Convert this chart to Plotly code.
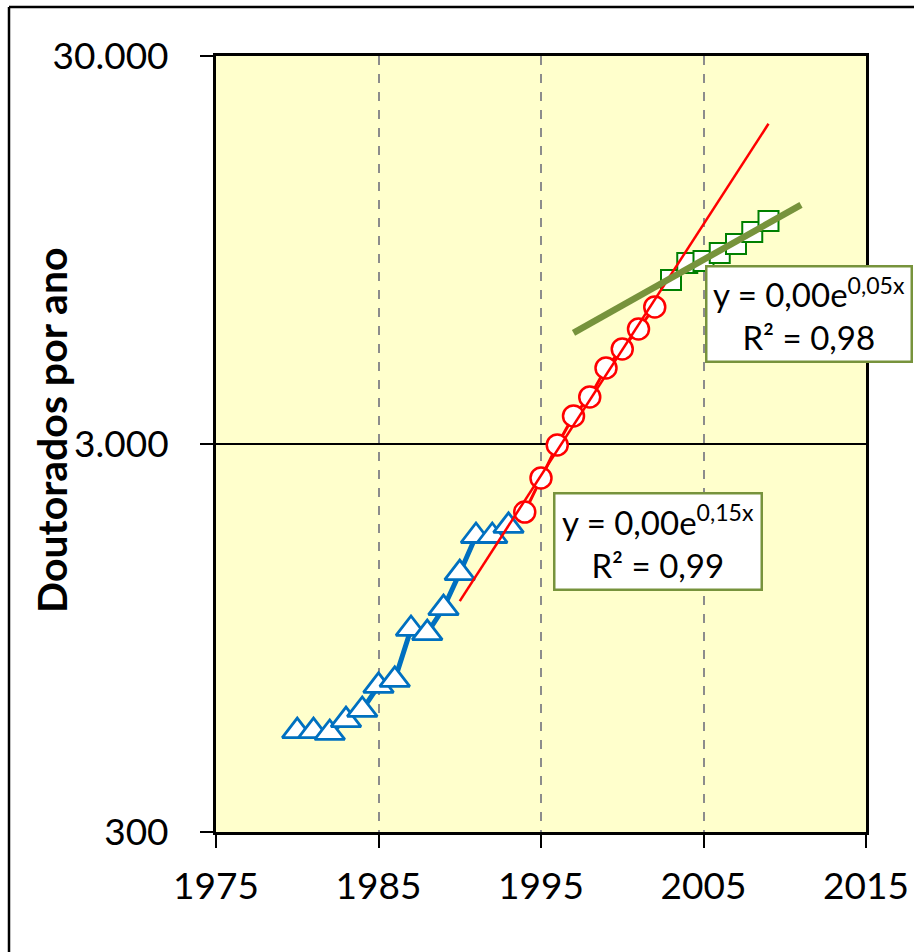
import numpy as np
import plotly.graph_objects as go

# Doutorados titulados por ano (escala log)
anos_a = [1980, 1981, 1982, 1983, 1984, 1985, 1986, 1987, 1988, 1989, 1990, 1991, 1992, 1993]
dout_a = [546, 546, 540, 583, 619, 714, 740, 1001, 977, 1133, 1395, 1738, 1738, 1845]

anos_b = [1994, 1995, 1996, 1997, 1998, 1999, 2000, 2001, 2002]
dout_b = [2003, 2452, 2982, 3543, 3965, 4710, 5271, 5935, 6766]

anos_c = [2003, 2004, 2005, 2006, 2007, 2008, 2009]
dout_c = [7939, 8783, 8886, 9320, 9831, 10557, 11267]

x_ticks = [1975, 1985, 1995, 2005, 2015]
y_ticks = [300, 3000, 30000]
y_ticktext = ["300", "3.000", "30.000"]

eq_b = "y = 0,00e<sup>0,15x</sup><br>R² = 0,99"
eq_c = "y = 0,00e<sup>0,05x</sup><br>R² = 0,98"
y_title = "Doutorados por ano"

W, H = 914, 952
ML, MR, MT, MB = 216, 48, 56, 120
FONT = "Lato"


def px_x(p):
    return (p - ML) / (W - ML - MR)


def px_y(p):
    return (H - MB - p) / (H - MT - MB)


def exp_trend(anos, vals, x0, x1):
    k, b = np.polyfit(anos, np.log(vals), 1)
    xs = np.linspace(x0, x1, 60)
    return xs, np.exp(k * xs + b)


fig = go.Figure()

fig.add_trace(go.Scatter(
    x=anos_a, y=dout_a, mode="lines+markers",
    line=dict(color="#0070C0", width=5),
    marker=dict(symbol="triangle-up", size=26, color="white",
                line=dict(color="#0070C0", width=2.8)),
    showlegend=False))

fig.add_trace(go.Scatter(
    x=anos_b, y=dout_b, mode="lines+markers",
    line=dict(color="#FF0000", width=3),
    marker=dict(symbol="circle", size=21, color="white",
                line=dict(color="#FF0000", width=2.5)),
    showlegend=False))

fig.add_trace(go.Scatter(
    x=anos_c, y=dout_c, mode="lines+markers",
    line=dict(color="#008000", width=2),
    marker=dict(symbol="square", size=20, color="white",
                line=dict(color="#008000", width=2)),
    showlegend=False))

# linhas de tendência exponencial
tx, ty = exp_trend(anos_b, dout_b, 1990, 2009)
fig.add_trace(go.Scatter(x=tx, y=ty, mode="lines",
                         line=dict(color="#FF0000", width=2.5),
                         showlegend=False))

tx, ty = exp_trend(anos_c, dout_c, 1997, 2011)
fig.add_trace(go.Scatter(x=tx, y=ty, mode="lines",
                         line=dict(color="#77933C", width=6.5),
                         showlegend=False))

box = dict(bgcolor="white", bordercolor="#77933C", borderwidth=2.5,
           borderpad=0, showarrow=False, align="center",
           font=dict(family=FONT, size=33, color="black"),
           xref="paper", yref="paper", xanchor="center", yanchor="middle")

fig.add_annotation(text=eq_b, x=px_x(658), y=px_y(541), width=205, height=94, **box)
fig.add_annotation(text=eq_c, x=px_x(809), y=px_y(314), width=203, height=93, **box)

fig.add_annotation(text="<b>" + y_title + "</b>", textangle=-90,
                   x=px_x(52), y=px_y(430), xref="paper", yref="paper",
                   xanchor="center", yanchor="middle", showarrow=False,
                   font=dict(family=FONT, size=41, color="black"))

# moldura externa do gráfico
frame = dict(type="line", xref="paper", yref="paper",
             line=dict(color="black", width=2.5), layer="above")
fig.add_shape(x0=px_x(9), x1=px_x(9), y0=px_y(7), y1=px_y(H), **frame)
fig.add_shape(x0=px_x(9), x1=px_x(W), y0=px_y(7), y1=px_y(7), **frame)

fig.update_layout(
    width=W, height=H, autosize=False,
    margin=dict(l=ML, r=MR, t=MT, b=MB, pad=0, autoexpand=False),
    paper_bgcolor="white", plot_bgcolor="#FFFFCC",
    font=dict(family=FONT, size=37, color="black"),
)

fig.update_xaxes(
    range=[1975, 2015], tickvals=x_ticks, ticktext=[str(v) for v in x_ticks],
    showline=True, linewidth=3, linecolor="black", mirror=True,
    ticks="outside", ticklen=13, tickwidth=2, tickcolor="black",
    showgrid=True, gridcolor="#8C8C8C", gridwidth=2, griddash="dash",
    zeroline=False, tickfont=dict(family=FONT, size=37),
    ticklabelstandoff=7, automargin=False,
)

fig.update_yaxes(
    type="log", range=[np.log10(300), np.log10(30000)],
    tickvals=y_ticks, ticktext=y_ticktext,
    showline=True, linewidth=3, linecolor="black", mirror=True,
    ticks="outside", ticklen=13, tickwidth=2, tickcolor="black",
    showgrid=True, gridcolor="black", gridwidth=1.5,
    zeroline=False, tickfont=dict(family=FONT, size=37),
    ticklabelstandoff=24, automargin=False,
)

fig.write_html("out.html")
